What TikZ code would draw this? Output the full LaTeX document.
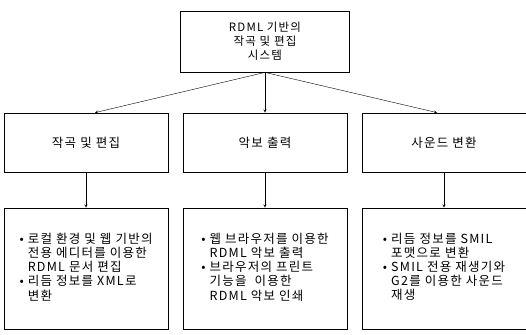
\documentclass[tikz,border=0pt]{standalone}
\usepackage{fontspec}
\setmainfont{Noto Sans CJK KR}[LetterSpace=10]
\usetikzlibrary{positioning}

\begin{document}
\begin{tikzpicture}[
			x=1pt, y=1pt,
			>=stealth,
			box/.style={
				draw,
				rectangle,
				line width=0.8pt,
				minimum width=164pt,
				minimum height=59pt,
				font=\fontsize{12.5}{13}\selectfont,
			},
			topbox/.style={
				box,
				minimum width=169pt,
				minimum height=61pt,
				align=center,
				font=\fontsize{11.5}{14}\selectfont,
			},
			listbox/.style={
				box,
				minimum height=121pt,
				align=left,
				font=\fontsize{12.5}{12.5}\selectfont,
			}
		]
		\useasboundingbox (0,0) rectangle (526,-334);

		\node[topbox] (sys) at (265,-41.5) {RDML 기반의\\작곡 및 편집\\시스템};

		\node[box, below of=sys, node distance=101pt] (score) {악보 출력};
		\node[box, left of=score, node distance=179pt] (edit) {작곡 및 편집};
		\node[box, right of=score, node distance=179pt] (sound) {사운드 변환};

		\node[listbox, below of=edit, node distance=126pt] (editl) {\begin{tabular}{@{}l@{\ }l@{}}
			• & 로컬 환경 및 웹 기반의\\
			  & 전용 에디터를 이용한\\
			  & RDML 문서 편집\\
			• & 리듬 정보를 XML로\\
			  & 변환
		\end{tabular}};
		\node[listbox, below of=score, node distance=126pt] (scorel) {\begin{tabular}{@{}l@{\ }l@{}}
			• & 웹 브라우저를 이용한\\
			  & RDML 악보 출력\\
			• & 브라우저의 프린트\\
			  & 기능을 \ 이용한\\
			  & RDML 악보 인쇄
		\end{tabular}};
		\node[listbox, below of=sound, node distance=126pt] (soundl) {\begin{tabular}{@{}l@{\ }l@{}}
			• & 리듬 정보를 SMIL\\
			  & 포맷으로 변환\\
			• & SMIL 전용 재생기와\\
			  & G2를 이용한 사운드\\
			  & 재생
		\end{tabular}};

		\draw (sys.south) edge[->] ([xshift=9pt]edit.north);
		\draw (sys.south) edge[->] (score.north);
		\draw (sys.south) edge[->] ([xshift=-7pt]sound.north);

		\draw (edit) edge[->] (editl);
		\draw (score) edge[->] (scorel);
		\draw (sound) edge[->] (soundl);

	\end{tikzpicture}
\end{document}
